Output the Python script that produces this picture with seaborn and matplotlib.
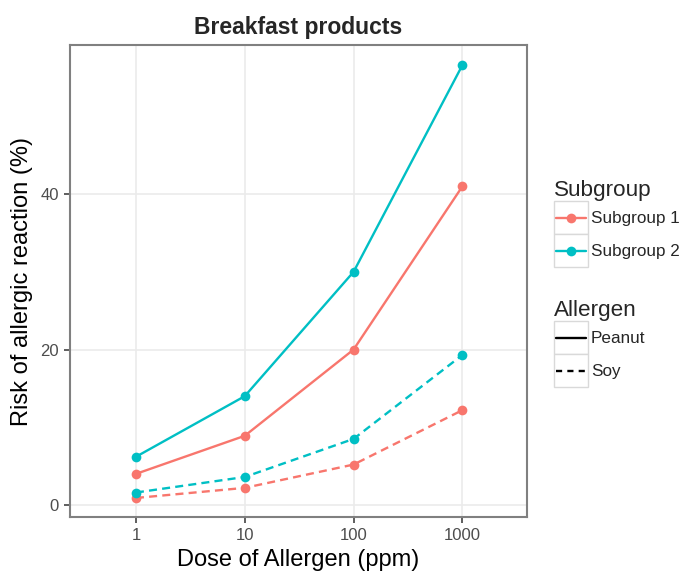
import numpy as np
import pandas as pd
import matplotlib
matplotlib.use("Agg")
import matplotlib.pyplot as plt
import seaborn as sns
from matplotlib.legend_handler import HandlerBase
from matplotlib.patches import Rectangle
from matplotlib.lines import Line2D

# Dose levels (ppm) and estimated risk (%) per subgroup / allergen
doses = [1, 10, 100, 1000]
subgroups = ["Subgroup 1", "Subgroup 2"]
allergens = ["Peanut", "Soy"]
risk_sg1_peanut = [4.0, 8.9, 20.0, 41.0]
risk_sg2_peanut = [6.2, 14.0, 30.0, 56.6]
risk_sg1_soy = [0.9, 2.2, 5.2, 12.2]
risk_sg2_soy = [1.6, 3.6, 8.5, 19.3]

x_ticks = [1, 10, 100, 1000]
x_tick_labels = ["1", "10", "100", "1000"]
y_ticks = [0, 20, 40]

colors = {"Subgroup 1": "#F8766D", "Subgroup 2": "#00BFC4"}
SOY_DASH = (3.4, 2.2)

rows = []
for sg, al, vals in [
    ("Subgroup 1", "Peanut", risk_sg1_peanut),
    ("Subgroup 2", "Peanut", risk_sg2_peanut),
    ("Subgroup 1", "Soy", risk_sg1_soy),
    ("Subgroup 2", "Soy", risk_sg2_soy),
]:
    for d, v in zip(doses, vals):
        rows.append({"Dose": d, "Risk": v, "Subgroup": sg, "Allergen": al})
df = pd.DataFrame(rows)

sns.set_theme(style="white")
plt.rcParams["font.family"] = ["Liberation Sans", "DejaVu Sans"]

W, H = 685, 577
fig = plt.figure(figsize=(W / 100, H / 100), dpi=100)
ax = fig.add_axes([70 / W, (H - 517) / H, 457 / W, 472 / H])

sns.lineplot(
    data=df, x="Dose", y="Risk", hue="Subgroup", style="Allergen",
    hue_order=subgroups, style_order=allergens, palette=colors,
    dashes={"Peanut": "", "Soy": SOY_DASH},
    markers={"Peanut": "o", "Soy": "o"},
    markersize=7, markeredgewidth=0, linewidth=1.7,
    estimator=None, legend=False, ax=ax, zorder=3,
)

ax.set_xscale("log")
ax.set_xlim(10 ** -0.606, 10 ** 3.594)
ax.set_ylim(-1.55, 59.2)
ax.set_xticks(x_ticks)
ax.set_xticklabels(x_tick_labels)
ax.xaxis.set_minor_locator(matplotlib.ticker.NullLocator())
ax.set_yticks(y_ticks)

ax.grid(True, color="#ebebeb", linewidth=1.2, zorder=0)
ax.set_axisbelow(True)
for s in ax.spines.values():
    s.set_color("#808080")
    s.set_linewidth(1.5)
ax.tick_params(axis="both", which="major", length=4, width=1.1, color="#333333",
               labelsize=12, labelcolor="#4d4d4d", pad=4, bottom=True, left=True)

ax.set_xlabel("Dose of Allergen (ppm)", fontsize=17, color="black", labelpad=4)
ax.set_ylabel("Risk of allergic reaction (%)", fontsize=17, color="black", labelpad=5)
ax.set_title("Breakfast products", fontsize=16.5, fontweight="bold", pad=8)


class BoxedKey(HandlerBase):
    """Legend key drawn inside a light grey square, ggplot style."""

    def create_artists(self, legend, orig_handle, xdescent, ydescent,
                       width, height, fontsize, trans):
        x0, y0 = -xdescent, -ydescent
        box = Rectangle((x0, y0), width, height, facecolor="white",
                        edgecolor="#d9d9d9", linewidth=1.0, transform=trans)
        yc = y0 + height / 2
        line = Line2D([x0 + 1.5, x0 + width - 1.5], [yc, yc],
                      color=orig_handle.get_color(),
                      linestyle=orig_handle.get_linestyle(),
                      linewidth=orig_handle.get_linewidth(), transform=trans)
        if orig_handle.get_linestyle() == "--":
            line.set_dashes((2.6, 2.2))
        arts = [box, line]
        if orig_handle.get_marker() not in (None, "", "None"):
            m = Line2D([x0 + width / 2], [yc], marker=orig_handle.get_marker(),
                       markersize=orig_handle.get_markersize(),
                       markerfacecolor=orig_handle.get_color(),
                       markeredgewidth=0, linestyle="none", transform=trans)
            arts.append(m)
        return arts


sg_handles = [Line2D([], [], color=colors[s], lw=1.7, marker="o", markersize=7)
              for s in subgroups]
al_handles = [Line2D([], [], color="black", lw=1.7, linestyle="-"),
              Line2D([], [], color="black", lw=1.7, linestyle="--")]

leg_kw = dict(loc="upper left", frameon=False, fontsize=12.3, title_fontsize=16.2,
              handlelength=2.0, handleheight=2.61, handletextpad=0.15,
              labelspacing=0, borderpad=0, borderaxespad=0, alignment="left",
              bbox_transform=fig.transFigure,
              handler_map={Line2D: BoxedKey()})

leg1 = ax.legend(sg_handles, subgroups, title="Subgroup",
                 bbox_to_anchor=(554 / W, 1 - 180 / H), **leg_kw)
ax.add_artist(leg1)
leg2 = ax.legend(al_handles, allergens, title="Allergen",
                 bbox_to_anchor=(554 / W, 1 - 300 / H), **leg_kw)

fig.savefig("out.png", dpi=100, facecolor="white")
